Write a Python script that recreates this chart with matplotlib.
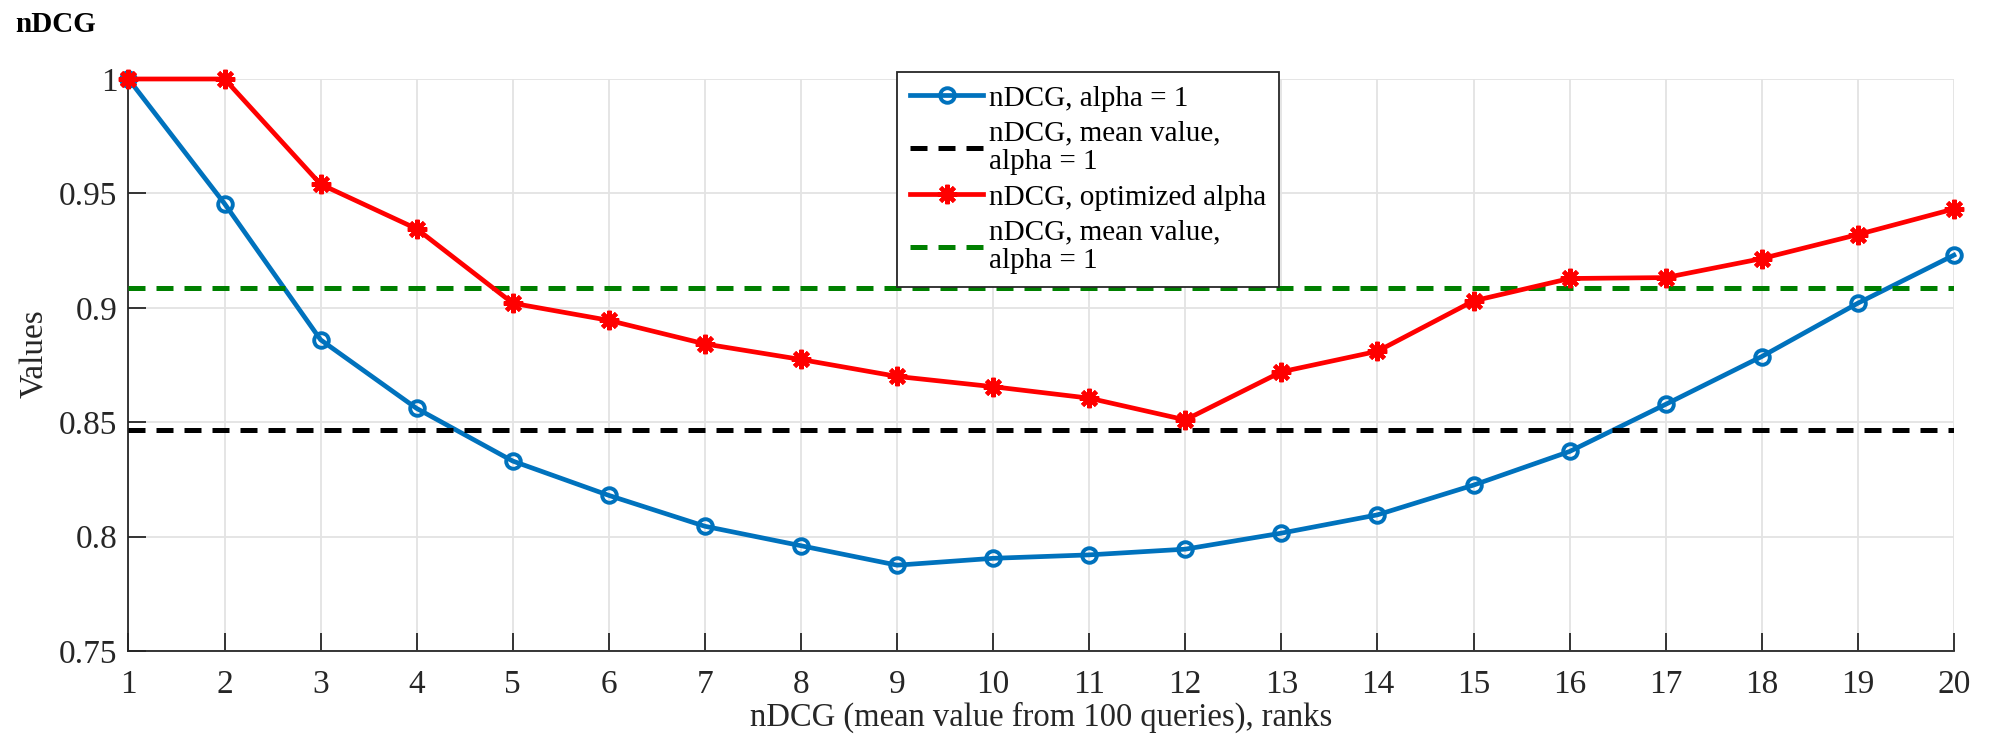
import matplotlib
matplotlib.use("Agg")
import matplotlib.pyplot as plt
import numpy as np

# ranks on the x axis
RANKS = list(range(1, 21))

# nDCG per rank, alpha = 1
NDCG_ALPHA1 = [1.000, 0.9455, 0.886, 0.856, 0.833, 0.818, 0.8045, 0.796, 0.7875, 0.7905,
               0.792, 0.7945, 0.8015, 0.8095, 0.8225, 0.8372, 0.8578, 0.8787, 0.902, 0.923]
# nDCG per rank, optimized alpha
NDCG_OPT = [1.000, 1.000, 0.954, 0.9345, 0.902, 0.8945, 0.8842, 0.8774, 0.870, 0.8655,
            0.8605, 0.851, 0.872, 0.881, 0.903, 0.9128, 0.9132, 0.9215, 0.932, 0.9432]
# horizontal mean values
MEAN_ALPHA1 = 0.8467
MEAN_OPT = 0.9086

LABELS = ["nDCG, alpha = 1",
          "nDCG, mean value,\nalpha = 1",
          "nDCG, optimized alpha",
          "nDCG, mean value,\nalpha = 1"]

BLUE = "#0072BD"
RED = "#FF0000"
GREEN = "#008000"
TXT = "#262626"

plt.rcParams["font.family"] = ["Liberation Serif", "DejaVu Serif"]

fig = plt.figure(figsize=(19.95, 7.41), dpi=100)
ax = fig.add_axes([0.0644, 0.1215, 0.915, 0.7719])

lw = 3.4
dash = dict(linewidth=3.6, dashes=(3.4, 2.2))
ax.plot(RANKS, NDCG_ALPHA1, color=BLUE, lw=lw, marker="o", markersize=10.5,
        markerfacecolor="none", markeredgewidth=2.8, clip_on=False, zorder=3,
        label=LABELS[0])
ax.plot([RANKS[0], RANKS[-1]], [MEAN_ALPHA1] * 2, color="black", zorder=3,
        label=LABELS[1], **dash)
ax.plot(RANKS, NDCG_OPT, color=RED, lw=lw, marker=(8, 2, 0), markersize=14,
        markeredgewidth=3.0, clip_on=False, zorder=4, label=LABELS[2])
ax.plot([RANKS[0], RANKS[-1]], [MEAN_OPT] * 2, color=GREEN, zorder=3,
        label=LABELS[3], **dash)

ax.set_xlim(1, 20)
ax.set_ylim(0.75, 1.0)
ax.set_xticks(RANKS)
ax.set_yticks([0.75, 0.8, 0.85, 0.9, 0.95, 1.0])
ax.set_yticklabels(["0.75", "0.8", "0.85", "0.9", "0.95", "1"])

ax.grid(True, color="#e3e3e3", linewidth=1.3, zorder=0)
ax.set_axisbelow(True)
for s in ("top", "right"):
    ax.spines[s].set_visible(False)
for s in ("left", "bottom"):
    ax.spines[s].set_color(TXT)
    ax.spines[s].set_linewidth(1.3)

ax.tick_params(axis="both", direction="in", length=13, width=1.3, color=TXT,
               labelcolor=TXT, labelsize=24)
ax.tick_params(axis="x", pad=13)
ax.tick_params(axis="y", pad=8)

ax.set_xlabel("nDCG (mean value from 100 queries), ranks", fontsize=23.5, color=TXT)
ax.set_ylabel("Values", fontsize=24, color=TXT)
ax.xaxis.set_label_coords(0.5, -0.089)
ax.yaxis.set_label_coords(-0.043, 0.52)

fig.text(0.0075, 0.9568, "nDCG", fontsize=21, fontweight="bold", color="black",
         ha="left", va="baseline")

leg = ax.legend(loc="upper left", bbox_to_anchor=(0.421, 1.012), borderaxespad=0,
                fontsize=21, frameon=True, fancybox=False, framealpha=1,
                edgecolor="#262626", handlelength=2.5, handletextpad=0.2,
                labelspacing=0.3, borderpad=0.45)
leg.get_frame().set_linewidth(1.3)
for t in leg.get_texts():
    t.set_linespacing(1.15)

fig.savefig("out.png", dpi=100)
